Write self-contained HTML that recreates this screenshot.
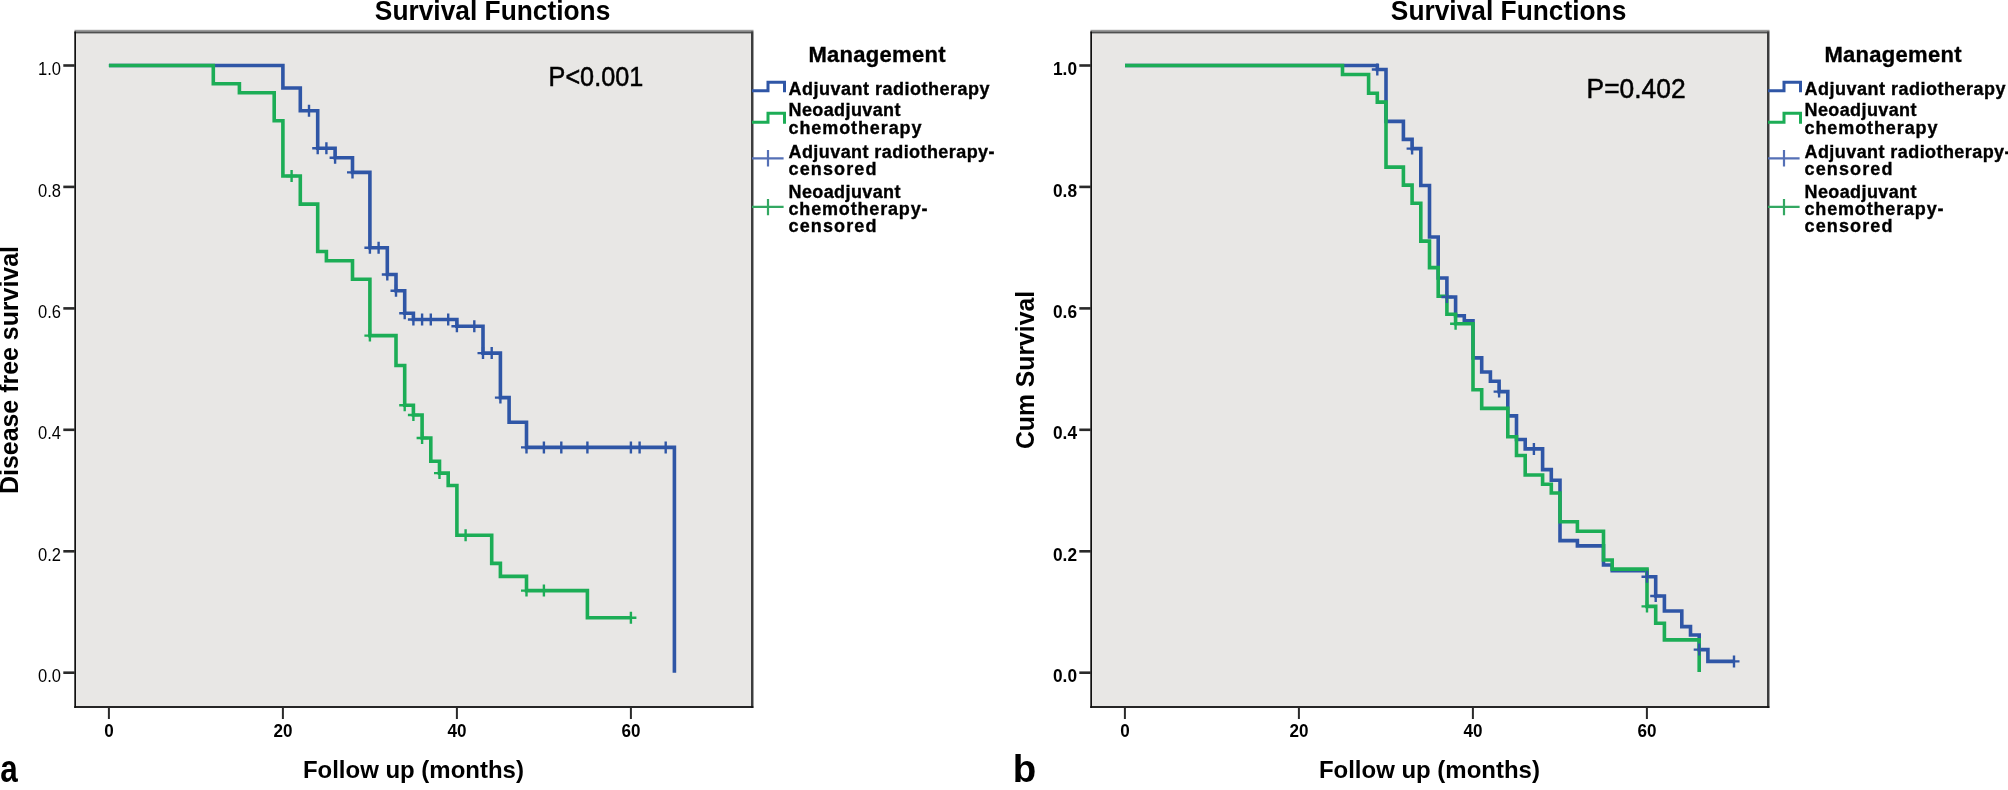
<!DOCTYPE html>
<html><head><meta charset="utf-8"><style>
html,body{margin:0;padding:0;background:#fff;width:2008px;height:790px;overflow:hidden}
svg{display:block;will-change:transform}
text{font-family:"Liberation Sans", sans-serif;fill:#000}
</style></head><body>
<svg width="2008" height="790" viewBox="0 0 2008 790">
<rect width="2008" height="790" fill="#fff"/>
<rect x="75" y="31" width="678" height="677" fill="#e8e7e5"/><rect x="74.5" y="29.8" width="679" height="1.8" fill="#9b9b9b"/><rect x="74.5" y="31.5" width="679" height="1.9" fill="#4f5050"/><rect x="751" y="31.5" width="2" height="676.5" fill="#3c3d3e"/><rect x="753" y="31.5" width="1" height="676.5" fill="#a0a0a0"/><rect x="74.3" y="31.5" width="1.7" height="676.5" fill="#111"/><rect x="74.3" y="706.1" width="679" height="1.8" fill="#111"/><rect x="63.3" y="64.2" width="11.5" height="2.6" fill="#2a2a2a"/><text x="61" y="75.1" font-size="18" font-weight="normal" text-anchor="end" textLength="23" lengthAdjust="spacingAndGlyphs" >1.0</text><rect x="63.3" y="185.6" width="11.5" height="2.6" fill="#2a2a2a"/><text x="61" y="196.5" font-size="18" font-weight="normal" text-anchor="end" textLength="23" lengthAdjust="spacingAndGlyphs" >0.8</text><rect x="63.3" y="307.1" width="11.5" height="2.6" fill="#2a2a2a"/><text x="61" y="318.0" font-size="18" font-weight="normal" text-anchor="end" textLength="23" lengthAdjust="spacingAndGlyphs" >0.6</text><rect x="63.3" y="428.5" width="11.5" height="2.6" fill="#2a2a2a"/><text x="61" y="439.4" font-size="18" font-weight="normal" text-anchor="end" textLength="23" lengthAdjust="spacingAndGlyphs" >0.4</text><rect x="63.3" y="550.0" width="11.5" height="2.6" fill="#2a2a2a"/><text x="61" y="560.9" font-size="18" font-weight="normal" text-anchor="end" textLength="23" lengthAdjust="spacingAndGlyphs" >0.2</text><rect x="63.3" y="671.4" width="11.5" height="2.6" fill="#2a2a2a"/><text x="61" y="682.3" font-size="18" font-weight="normal" text-anchor="end" textLength="23" lengthAdjust="spacingAndGlyphs" >0.0</text><rect x="107.9" y="707.5" width="2" height="11.5" fill="#2a2a2a"/><text x="108.9" y="736.5" font-size="18" font-weight="bold" text-anchor="middle" textLength="9.5" lengthAdjust="spacingAndGlyphs" >0</text><rect x="281.9" y="707.5" width="2" height="11.5" fill="#2a2a2a"/><text x="282.9" y="736.5" font-size="18" font-weight="bold" text-anchor="middle" textLength="19" lengthAdjust="spacingAndGlyphs" >20</text><rect x="455.9" y="707.5" width="2" height="11.5" fill="#2a2a2a"/><text x="456.9" y="736.5" font-size="18" font-weight="bold" text-anchor="middle" textLength="19" lengthAdjust="spacingAndGlyphs" >40</text><rect x="629.9" y="707.5" width="2" height="11.5" fill="#2a2a2a"/><text x="630.9" y="736.5" font-size="18" font-weight="bold" text-anchor="middle" textLength="19" lengthAdjust="spacingAndGlyphs" >60</text><path d="M108.9,65.5 H282.9 V88.0 H300.3 V110.8 H317.7 V148.2 H335.1 V157.7 H352.5 V172.4 H369.9 V247.7 H387.3 V274.5 H396.0 V290.7 H404.7 V313.2 H413.4 V319.5 H456.9 V326.2 H483.0 V353.1 H500.4 V397.6 H509.1 V422.2 H526.5 V447.4 H674.4 V672.7 H674.4" stroke="#2f56a6" stroke-width="3.6" fill="none" stroke-linejoin="miter" stroke-linecap="butt"/><path d="M108.9,65.5 H213.3 V83.8 H239.4 V92.7 H274.2 V120.7 H282.9 V176.0 H300.3 V204.1 H317.7 V251.5 H326.4 V260.7 H352.5 V279.3 H369.9 V335.6 H396.0 V365.5 H404.7 V405.2 H413.4 V415.0 H422.1 V438.0 H430.8 V461.3 H439.5 V473.1 H448.2 V485.5 H456.9 V535.3 H491.7 V563.4 H500.4 V576.4 H526.5 V590.6 H587.4 V617.7 H630.9" stroke="#1cad56" stroke-width="3.6" fill="none" stroke-linejoin="miter" stroke-linecap="butt"/><path d="M303.5,110.8 H314.5 M309.0,104.8 V116.8" stroke="#2f56a6" stroke-width="2.4" fill="none"/><path d="M312.2,148.2 H323.2 M317.7,142.2 V154.2" stroke="#2f56a6" stroke-width="2.4" fill="none"/><path d="M320.9,148.2 H331.9 M326.4,142.2 V154.2" stroke="#2f56a6" stroke-width="2.4" fill="none"/><path d="M329.6,157.7 H340.6 M335.1,151.7 V163.7" stroke="#2f56a6" stroke-width="2.4" fill="none"/><path d="M347.0,172.4 H358.0 M352.5,166.4 V178.4" stroke="#2f56a6" stroke-width="2.4" fill="none"/><path d="M364.4,247.7 H375.4 M369.9,241.7 V253.7" stroke="#2f56a6" stroke-width="2.4" fill="none"/><path d="M373.1,247.7 H384.1 M378.6,241.7 V253.7" stroke="#2f56a6" stroke-width="2.4" fill="none"/><path d="M381.8,274.5 H392.8 M387.3,268.5 V280.5" stroke="#2f56a6" stroke-width="2.4" fill="none"/><path d="M390.5,290.7 H401.5 M396.0,284.7 V296.7" stroke="#2f56a6" stroke-width="2.4" fill="none"/><path d="M399.2,313.2 H410.2 M404.7,307.2 V319.2" stroke="#2f56a6" stroke-width="2.4" fill="none"/><path d="M407.9,319.5 H418.9 M413.4,313.5 V325.5" stroke="#2f56a6" stroke-width="2.4" fill="none"/><path d="M416.6,319.5 H427.6 M422.1,313.5 V325.5" stroke="#2f56a6" stroke-width="2.4" fill="none"/><path d="M425.3,319.5 H436.3 M430.8,313.5 V325.5" stroke="#2f56a6" stroke-width="2.4" fill="none"/><path d="M442.7,319.5 H453.7 M448.2,313.5 V325.5" stroke="#2f56a6" stroke-width="2.4" fill="none"/><path d="M451.4,326.2 H462.4 M456.9,320.2 V332.2" stroke="#2f56a6" stroke-width="2.4" fill="none"/><path d="M468.8,326.2 H479.8 M474.3,320.2 V332.2" stroke="#2f56a6" stroke-width="2.4" fill="none"/><path d="M477.5,353.1 H488.5 M483.0,347.1 V359.1" stroke="#2f56a6" stroke-width="2.4" fill="none"/><path d="M486.2,353.1 H497.2 M491.7,347.1 V359.1" stroke="#2f56a6" stroke-width="2.4" fill="none"/><path d="M494.9,397.6 H505.9 M500.4,391.6 V403.6" stroke="#2f56a6" stroke-width="2.4" fill="none"/><path d="M521.0,447.4 H532.0 M526.5,441.4 V453.4" stroke="#2f56a6" stroke-width="2.4" fill="none"/><path d="M538.4,447.4 H549.4 M543.9,441.4 V453.4" stroke="#2f56a6" stroke-width="2.4" fill="none"/><path d="M555.8,447.4 H566.8 M561.3,441.4 V453.4" stroke="#2f56a6" stroke-width="2.4" fill="none"/><path d="M581.9,447.4 H592.9 M587.4,441.4 V453.4" stroke="#2f56a6" stroke-width="2.4" fill="none"/><path d="M625.4,447.4 H636.4 M630.9,441.4 V453.4" stroke="#2f56a6" stroke-width="2.4" fill="none"/><path d="M634.1,447.4 H645.1 M639.6,441.4 V453.4" stroke="#2f56a6" stroke-width="2.4" fill="none"/><path d="M660.2,447.4 H671.2 M665.7,441.4 V453.4" stroke="#2f56a6" stroke-width="2.4" fill="none"/><path d="M286.1,176.0 H297.1 M291.6,170.0 V182.0" stroke="#1cad56" stroke-width="2.4" fill="none"/><path d="M364.4,335.6 H375.4 M369.9,329.6 V341.6" stroke="#1cad56" stroke-width="2.4" fill="none"/><path d="M399.2,405.2 H410.2 M404.7,399.2 V411.2" stroke="#1cad56" stroke-width="2.4" fill="none"/><path d="M407.9,415.0 H418.9 M413.4,409.0 V421.0" stroke="#1cad56" stroke-width="2.4" fill="none"/><path d="M416.6,438.0 H427.6 M422.1,432.0 V444.0" stroke="#1cad56" stroke-width="2.4" fill="none"/><path d="M434.0,473.1 H445.0 M439.5,467.1 V479.1" stroke="#1cad56" stroke-width="2.4" fill="none"/><path d="M460.1,535.3 H471.1 M465.6,529.3 V541.3" stroke="#1cad56" stroke-width="2.4" fill="none"/><path d="M521.0,590.6 H532.0 M526.5,584.6 V596.6" stroke="#1cad56" stroke-width="2.4" fill="none"/><path d="M538.4,590.6 H549.4 M543.9,584.6 V596.6" stroke="#1cad56" stroke-width="2.4" fill="none"/><path d="M625.4,617.7 H636.4 M630.9,611.7 V623.7" stroke="#1cad56" stroke-width="2.4" fill="none"/><text x="548.6" y="86.4" font-size="27" font-weight="normal" text-anchor="start" textLength="94.6" lengthAdjust="spacingAndGlyphs" stroke="#000" stroke-width="0.5">P&lt;0.001</text><text x="492.6" y="20" font-size="27" font-weight="bold" text-anchor="middle" textLength="235.5" lengthAdjust="spacingAndGlyphs" >Survival Functions</text><text x="413.4" y="777.6" font-size="24" font-weight="bold" text-anchor="middle" textLength="221" lengthAdjust="spacingAndGlyphs" >Follow up (months)</text><g transform="translate(18,370) rotate(-90)"><text x="0" y="0" font-size="25" font-weight="bold" text-anchor="middle" textLength="248" lengthAdjust="spacingAndGlyphs" >Disease free survival</text></g><text x="877" y="61.9" font-size="22" font-weight="bold" text-anchor="middle" textLength="137" lengthAdjust="spacing" stroke="#000" stroke-width="0.35">Management</text><text x="788.5" y="94.8" font-size="18" font-weight="bold" text-anchor="start" textLength="201" lengthAdjust="spacing" stroke="#000" stroke-width="0.35">Adjuvant radiotherapy</text><text x="788.5" y="116.2" font-size="18" font-weight="bold" text-anchor="start" textLength="112" lengthAdjust="spacing" stroke="#000" stroke-width="0.35">Neoadjuvant</text><text x="788.5" y="134.2" font-size="18" font-weight="bold" text-anchor="start" textLength="133" lengthAdjust="spacing" stroke="#000" stroke-width="0.35">chemotherapy</text><text x="788.5" y="157.9" font-size="18" font-weight="bold" text-anchor="start" textLength="206" lengthAdjust="spacing" stroke="#000" stroke-width="0.35">Adjuvant radiotherapy-</text><text x="788.5" y="174.6" font-size="18" font-weight="bold" text-anchor="start" textLength="88" lengthAdjust="spacing" stroke="#000" stroke-width="0.35">censored</text><text x="788.5" y="197.9" font-size="18" font-weight="bold" text-anchor="start" textLength="112" lengthAdjust="spacing" stroke="#000" stroke-width="0.35">Neoadjuvant</text><text x="788.5" y="214.5" font-size="18" font-weight="bold" text-anchor="start" textLength="139" lengthAdjust="spacing" stroke="#000" stroke-width="0.35">chemotherapy-</text><text x="788.5" y="232.1" font-size="18" font-weight="bold" text-anchor="start" textLength="88" lengthAdjust="spacing" stroke="#000" stroke-width="0.35">censored</text><path d="M752,90.8 H768 V82.2 H784.5 V92.3" stroke="#2f56a6" stroke-width="3" fill="none"/><path d="M752,122.3 H768 V113.2 H784.5 V123.7" stroke="#1cad56" stroke-width="3" fill="none"/><path d="M752,158.4 H783.6 M768,150.1 V166.6" stroke="#5570b6" stroke-width="2.2" fill="none"/><path d="M752,206.8 H783.6 M768,198.9 V215.3" stroke="#33a862" stroke-width="2.2" fill="none"/><text x="0.2" y="781.5" font-size="38" font-weight="bold" text-anchor="start" textLength="17.5" lengthAdjust="spacingAndGlyphs" >a</text><rect x="1091" y="31" width="678" height="677" fill="#e8e7e5"/><rect x="1090.5" y="29.8" width="679" height="1.8" fill="#9b9b9b"/><rect x="1090.5" y="31.5" width="679" height="1.9" fill="#4f5050"/><rect x="1767" y="31.5" width="2" height="676.5" fill="#3c3d3e"/><rect x="1769" y="31.5" width="1" height="676.5" fill="#a0a0a0"/><rect x="1090.3" y="31.5" width="1.7" height="676.5" fill="#111"/><rect x="1090.3" y="706.1" width="679" height="1.8" fill="#111"/><rect x="1079.3" y="64.2" width="11.5" height="2.6" fill="#2a2a2a"/><text x="1077" y="75.1" font-size="18" font-weight="bold" text-anchor="end" textLength="24" lengthAdjust="spacingAndGlyphs" >1.0</text><rect x="1079.3" y="185.6" width="11.5" height="2.6" fill="#2a2a2a"/><text x="1077" y="196.5" font-size="18" font-weight="bold" text-anchor="end" textLength="24" lengthAdjust="spacingAndGlyphs" >0.8</text><rect x="1079.3" y="307.1" width="11.5" height="2.6" fill="#2a2a2a"/><text x="1077" y="318.0" font-size="18" font-weight="bold" text-anchor="end" textLength="24" lengthAdjust="spacingAndGlyphs" >0.6</text><rect x="1079.3" y="428.5" width="11.5" height="2.6" fill="#2a2a2a"/><text x="1077" y="439.4" font-size="18" font-weight="bold" text-anchor="end" textLength="24" lengthAdjust="spacingAndGlyphs" >0.4</text><rect x="1079.3" y="550.0" width="11.5" height="2.6" fill="#2a2a2a"/><text x="1077" y="560.9" font-size="18" font-weight="bold" text-anchor="end" textLength="24" lengthAdjust="spacingAndGlyphs" >0.2</text><rect x="1079.3" y="671.4" width="11.5" height="2.6" fill="#2a2a2a"/><text x="1077" y="682.3" font-size="18" font-weight="bold" text-anchor="end" textLength="24" lengthAdjust="spacingAndGlyphs" >0.0</text><rect x="1123.9" y="707.5" width="2" height="11.5" fill="#2a2a2a"/><text x="1124.9" y="736.5" font-size="18" font-weight="bold" text-anchor="middle" textLength="9.5" lengthAdjust="spacingAndGlyphs" >0</text><rect x="1297.9" y="707.5" width="2" height="11.5" fill="#2a2a2a"/><text x="1298.9" y="736.5" font-size="18" font-weight="bold" text-anchor="middle" textLength="19" lengthAdjust="spacingAndGlyphs" >20</text><rect x="1471.9" y="707.5" width="2" height="11.5" fill="#2a2a2a"/><text x="1472.9" y="736.5" font-size="18" font-weight="bold" text-anchor="middle" textLength="19" lengthAdjust="spacingAndGlyphs" >40</text><rect x="1645.9" y="707.5" width="2" height="11.5" fill="#2a2a2a"/><text x="1646.9" y="736.5" font-size="18" font-weight="bold" text-anchor="middle" textLength="19" lengthAdjust="spacingAndGlyphs" >60</text><path d="M1125.0,65.5 H1377.3 V69.5 H1386.0 V121.4 H1403.4 V139.4 H1412.1 V148.6 H1420.8 V185.5 H1429.5 V237.0 H1438.2 V278.0 H1446.9 V297.0 H1455.6 V315.8 H1464.3 V320.8 H1473.0 V357.9 H1481.7 V372.0 H1490.4 V381.3 H1499.1 V391.6 H1507.8 V415.9 H1516.5 V439.5 H1525.2 V448.9 H1542.6 V469.6 H1551.3 V480.3 H1560.0 V540.6 H1577.4 V545.9 H1603.5 V565.0 H1612.2 V570.6 H1647.0 V576.7 H1655.7 V596.0 H1664.4 V611.0 H1681.8 V626.6 H1690.5 V635.0 H1699.2 V649.6 H1707.9 V661.4 H1734.0" stroke="#2f56a6" stroke-width="3.6" fill="none" stroke-linejoin="miter" stroke-linecap="butt"/><path d="M1125.0,65.5 H1342.5 V74.5 H1368.6 V93.2 H1377.3 V102.1 H1386.0 V167.1 H1403.4 V185.1 H1412.1 V203.3 H1420.8 V241.1 H1429.5 V267.6 H1438.2 V296.2 H1446.9 V314.2 H1455.6 V323.8 H1473.0 V389.8 H1481.7 V408.4 H1507.8 V436.8 H1516.5 V455.5 H1525.2 V475.0 H1542.6 V484.2 H1551.3 V493.0 H1560.0 V521.8 H1577.4 V531.2 H1603.5 V560.0 H1612.2 V569.1 H1647.0 V606.4 H1655.7 V623.2 H1664.4 V639.9 H1699.2 V671.9 H1699.2" stroke="#1cad56" stroke-width="3.6" fill="none" stroke-linejoin="miter" stroke-linecap="butt"/><path d="M1371.8,69.5 H1382.8 M1377.3,63.5 V75.5" stroke="#2f56a6" stroke-width="2.4" fill="none"/><path d="M1406.6,148.6 H1417.6 M1412.1,142.6 V154.6" stroke="#2f56a6" stroke-width="2.4" fill="none"/><path d="M1441.4,297.0 H1452.4 M1446.9,291.0 V303.0" stroke="#2f56a6" stroke-width="2.4" fill="none"/><path d="M1493.6,391.6 H1504.6 M1499.1,385.6 V397.6" stroke="#2f56a6" stroke-width="2.4" fill="none"/><path d="M1528.4,448.9 H1539.4 M1533.9,442.9 V454.9" stroke="#2f56a6" stroke-width="2.4" fill="none"/><path d="M1641.5,576.7 H1652.5 M1647.0,570.7 V582.7" stroke="#2f56a6" stroke-width="2.4" fill="none"/><path d="M1650.2,596.0 H1661.2 M1655.7,590.0 V602.0" stroke="#2f56a6" stroke-width="2.4" fill="none"/><path d="M1693.7,649.6 H1704.7 M1699.2,643.6 V655.6" stroke="#2f56a6" stroke-width="2.4" fill="none"/><path d="M1728.5,661.4 H1739.5 M1734.0,655.4 V667.4" stroke="#2f56a6" stroke-width="2.4" fill="none"/><path d="M1450.1,323.8 H1461.1 M1455.6,317.8 V329.8" stroke="#1cad56" stroke-width="2.4" fill="none"/><path d="M1641.5,606.4 H1652.5 M1647.0,600.4 V612.4" stroke="#1cad56" stroke-width="2.4" fill="none"/><text x="1586.6" y="97.7" font-size="27" font-weight="normal" text-anchor="start" textLength="99" lengthAdjust="spacingAndGlyphs" stroke="#000" stroke-width="0.5">P=0.402</text><text x="1508.6" y="20" font-size="27" font-weight="bold" text-anchor="middle" textLength="235.5" lengthAdjust="spacingAndGlyphs" >Survival Functions</text><text x="1429.4" y="777.6" font-size="24" font-weight="bold" text-anchor="middle" textLength="221" lengthAdjust="spacingAndGlyphs" >Follow up (months)</text><g transform="translate(1034,370) rotate(-90)"><text x="0" y="0" font-size="25" font-weight="bold" text-anchor="middle" textLength="158" lengthAdjust="spacingAndGlyphs" >Cum Survival</text></g><text x="1893" y="61.9" font-size="22" font-weight="bold" text-anchor="middle" textLength="137" lengthAdjust="spacing" stroke="#000" stroke-width="0.35">Management</text><text x="1804.5" y="94.8" font-size="18" font-weight="bold" text-anchor="start" textLength="201" lengthAdjust="spacing" stroke="#000" stroke-width="0.35">Adjuvant radiotherapy</text><text x="1804.5" y="116.2" font-size="18" font-weight="bold" text-anchor="start" textLength="112" lengthAdjust="spacing" stroke="#000" stroke-width="0.35">Neoadjuvant</text><text x="1804.5" y="134.2" font-size="18" font-weight="bold" text-anchor="start" textLength="133" lengthAdjust="spacing" stroke="#000" stroke-width="0.35">chemotherapy</text><text x="1804.5" y="157.9" font-size="18" font-weight="bold" text-anchor="start" textLength="206" lengthAdjust="spacing" stroke="#000" stroke-width="0.35">Adjuvant radiotherapy-</text><text x="1804.5" y="174.6" font-size="18" font-weight="bold" text-anchor="start" textLength="88" lengthAdjust="spacing" stroke="#000" stroke-width="0.35">censored</text><text x="1804.5" y="197.9" font-size="18" font-weight="bold" text-anchor="start" textLength="112" lengthAdjust="spacing" stroke="#000" stroke-width="0.35">Neoadjuvant</text><text x="1804.5" y="214.5" font-size="18" font-weight="bold" text-anchor="start" textLength="139" lengthAdjust="spacing" stroke="#000" stroke-width="0.35">chemotherapy-</text><text x="1804.5" y="232.1" font-size="18" font-weight="bold" text-anchor="start" textLength="88" lengthAdjust="spacing" stroke="#000" stroke-width="0.35">censored</text><path d="M1768,90.8 H1784 V82.2 H1800.5 V92.3" stroke="#2f56a6" stroke-width="3" fill="none"/><path d="M1768,122.3 H1784 V113.2 H1800.5 V123.7" stroke="#1cad56" stroke-width="3" fill="none"/><path d="M1768,158.4 H1799.6 M1784,150.1 V166.6" stroke="#5570b6" stroke-width="2.2" fill="none"/><path d="M1768,206.8 H1799.6 M1784,198.9 V215.3" stroke="#33a862" stroke-width="2.2" fill="none"/><text x="1012.8" y="781.5" font-size="38" font-weight="bold" text-anchor="start" textLength="23.5" lengthAdjust="spacingAndGlyphs" >b</text>
</svg>
</body></html>
